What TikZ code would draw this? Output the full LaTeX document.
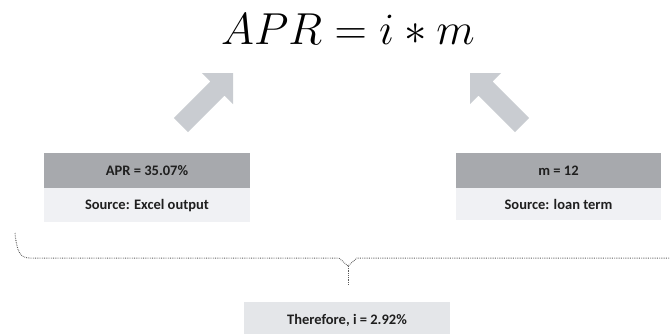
\documentclass[tikz,border=0pt]{standalone}
\usepackage{fontspec}
\newfontfamily\boxfont{Carlito}
\usetikzlibrary{calc}
\definecolor{valgray}{HTML}{A7A9AD}
\definecolor{srcgray}{HTML}{F0F1F4}
\definecolor{resgray}{HTML}{E4E6E9}
\definecolor{arrowgray}{HTML}{C9CCD1}
\definecolor{bracegray}{HTML}{5A5A5A}
\tikzset{
  boxtext/.style={font=\boxfont\bfseries\fontsize{14.5}{17}\selectfont, text=black!88},
  valbox/.style={boxtext, fill=valgray, draw=none, minimum width=206pt, minimum height=35pt,
    inner sep=0pt},
  srcbox/.style={boxtext, fill=srcgray, draw=none, minimum width=206pt, minimum height=34pt,
    inner sep=0pt},
  resbox/.style={boxtext, fill=resgray, draw=none, minimum width=206pt, minimum height=36pt,
    inner sep=0pt},
  blockarrow/.style={fill=arrowgray, draw=none},
  bracepath/.style={draw=bracegray, line width=1pt, dash pattern=on 0.7pt off 1.1pt}
}
\begin{document}
\begin{tikzpicture}[x=1pt,y=-1pt]
\useasboundingbox (0,0) rectangle (670,333);

% formula (math fonts stop at 24.88pt, so the node is scaled up)
\node[inner sep=0pt, anchor=base, font=\Huge, scale=1.8] (eq) at (348,44) {$APR = i * m$};

% left column: value and source
\node[valbox] (aprval) at (147,170.5) {APR = 35.07\%};
\node[srcbox, anchor=north] (aprsrc) at (aprval.south) {Source: Excel output};

% right column: value and source
\node[valbox, minimum width=205pt] (mval) at (558.5,170.5) {m = 12};
\node[srcbox, minimum width=205pt, minimum height=32pt, anchor=north] (msrc) at (mval.south) {Source: loan term};

% result
\node[resbox, anchor=north] (res) at (347,302) {Therefore, i = 2.92\%};

% block arrows pointing up to the formula
\fill[blockarrow] (173.9,117.9) -- (210.3,81.5) -- (201.9,73.0) -- (233,73)
  -- (233,104.1) -- (224.5,95.7) -- (188.1,132.1) -- cycle;
\begin{scope}[xshift=703pt, xscale=-1]
\fill[blockarrow] (173.9,117.9) -- (210.3,81.5) -- (201.9,73.0) -- (233,73)
  -- (233,104.1) -- (224.5,95.7) -- (188.1,132.1) -- cycle;
\end{scope}

% dotted brace gathering both columns
\coordinate (bl) at (15,233);
\coordinate (vtip) at (348,266);
\coordinate (stem) at (348,285);
\draw[bracepath] (bl) .. controls (17,252) and (20,258) .. (30,258) -- (339,258) -- (vtip)
  -- (357,258) -- (670,258);
\draw[bracepath] (vtip) -- (stem);
\end{tikzpicture}
\end{document}
